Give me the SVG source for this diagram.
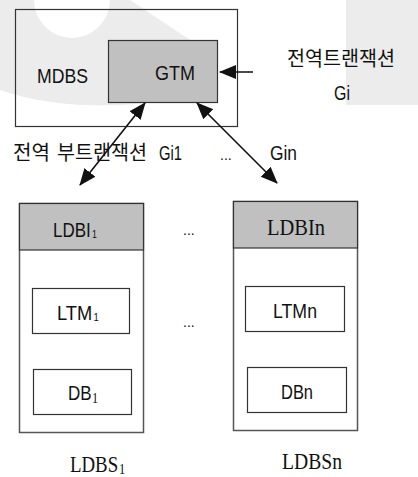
<svg xmlns="http://www.w3.org/2000/svg" width="418" height="477" viewBox="0 0 418 477">
<style>
.sans{font-family:"Liberation Sans","Noto Sans CJK KR",Arial,sans-serif;fill:#111}
.kr{font-family:"Noto Sans CJK KR","Liberation Sans",sans-serif;fill:#111}
.serif{font-family:"Liberation Serif","Times New Roman",serif;fill:#111}
.box{fill:#fff;stroke:#333;stroke-width:1.2}
.gbox{fill:#c0c0c0;stroke:#333;stroke-width:1.2}
.outer{fill:#fff;stroke:#555;stroke-width:1.5}
.wm{fill:#ececec}
.arr{stroke:#111;stroke-width:1.6;fill:none}
</style>
<defs>
<marker id="ah" markerUnits="userSpaceOnUse" markerWidth="18" markerHeight="16" refX="16" refY="8" orient="auto-start-reverse">
<path d="M0,1 L17,8 L0,15 Z" fill="#111"/>
</marker>
</defs>
<rect width="418" height="477" fill="#fff"/>
<g id="watermark">
<path class="wm" d="M0,0 H34 A38,38 0 0 0 110,0 H130 L190,40 L190,102 L150,102 Q120,106 108,105 Q50,107 0,90 Z"/>
<rect class="wm" x="346" y="0" width="72" height="105"/>
</g>
<g id="mdbs">
<rect x="15.5" y="9.5" width="222" height="117" fill="none" stroke="#333" stroke-width="1.2"/>
<text class="sans" x="37" y="83" font-size="21" textLength="51" lengthAdjust="spacingAndGlyphs">MDBS</text>
</g>
<g id="gtm">
<rect class="gbox" x="108.5" y="40.5" width="109" height="62"/>
<text class="sans" x="155" y="80" font-size="21" textLength="40" lengthAdjust="spacingAndGlyphs">GTM</text>
</g>
<g id="global-tx">
<text class="kr" x="287" y="66" font-size="20" textLength="108" lengthAdjust="spacingAndGlyphs">전역트랜잭션</text>
<text class="sans" x="334" y="100" font-size="21" textLength="16" lengthAdjust="spacingAndGlyphs">Gi</text>
</g>
<g id="sub-tx">
<text class="kr" x="13" y="160" font-size="20" textLength="37" lengthAdjust="spacingAndGlyphs">전역</text>
<text class="kr" x="57" y="160" font-size="20" textLength="90" lengthAdjust="spacingAndGlyphs">부트랜잭션</text>
<text class="sans" x="159" y="160" font-size="20" textLength="23" lengthAdjust="spacingAndGlyphs">Gi1</text>
<text class="sans" x="220" y="160" font-size="14">...</text>
<text class="sans" x="270" y="160" font-size="20" textLength="27" lengthAdjust="spacingAndGlyphs">Gin</text>
</g>
<g id="ldbs1">
<rect class="outer" x="19.5" y="203.5" width="124" height="229"/>
<rect fill="#c0c0c0" stroke="#333" stroke-width="1.2" x="19.5" y="203.5" width="124" height="46.5"/>
<text class="sans" transform="translate(53,237) scale(0.81,1)" font-size="21">LDBI<tspan font-size="11" dx="1.5" dy="1">1</tspan></text>
</g>
<g id="ltm1">
<rect class="box" x="32.5" y="288.5" width="97" height="45"/>
<text class="sans" transform="translate(57,320) scale(0.87,1)" font-size="21">LTM<tspan font-size="11" dx="1.5" dy="1">1</tspan></text>
</g>
<g id="db1">
<rect class="box" x="33.5" y="369.5" width="98" height="45"/>
<text class="sans" transform="translate(68,400) scale(0.81,1)" font-size="21">DB<tspan class="serif" font-size="15" dx="0.5" dy="3">1</tspan></text>
</g>
<g id="ldbsn">
<rect class="outer" x="233.5" y="201.5" width="124" height="229"/>
<rect fill="#c0c0c0" stroke="#333" stroke-width="1.2" x="233.5" y="201.5" width="124" height="46.5"/>
<text class="serif" x="267" y="235" font-size="23" textLength="58" lengthAdjust="spacingAndGlyphs">LDBIn</text>
</g>
<g id="ltmn">
<rect class="box" x="245.5" y="286.5" width="99" height="45"/>
<text class="sans" x="273" y="318" font-size="21" textLength="44" lengthAdjust="spacingAndGlyphs">LTMn</text>
</g>
<g id="dbn">
<rect class="box" x="247.5" y="367.5" width="99" height="45"/>
<text class="sans" x="281" y="399" font-size="21" textLength="32" lengthAdjust="spacingAndGlyphs">DBn</text>
</g>
<g id="dots">
<text class="sans" x="183" y="235" font-size="14">...</text>
<text class="sans" x="183" y="327" font-size="14">...</text>
</g>
<g id="labels">
<text class="serif" transform="translate(70,472) scale(0.82,1)" font-size="23">LDBS<tspan font-size="15" dx="1" dy="2">1</tspan></text>
<text class="serif" x="282" y="469" font-size="23" textLength="60" lengthAdjust="spacingAndGlyphs">LDBSn</text>
</g>
<g id="connectors">
<line class="arr" x1="253" y1="72" x2="220" y2="72" marker-end="url(#ah)"/>
<line class="arr" x1="80" y1="185" x2="145" y2="103" marker-start="url(#ah)" marker-end="url(#ah)"/>
<line class="arr" x1="277" y1="183" x2="197" y2="103" marker-start="url(#ah)" marker-end="url(#ah)"/>
</g>
</svg>
